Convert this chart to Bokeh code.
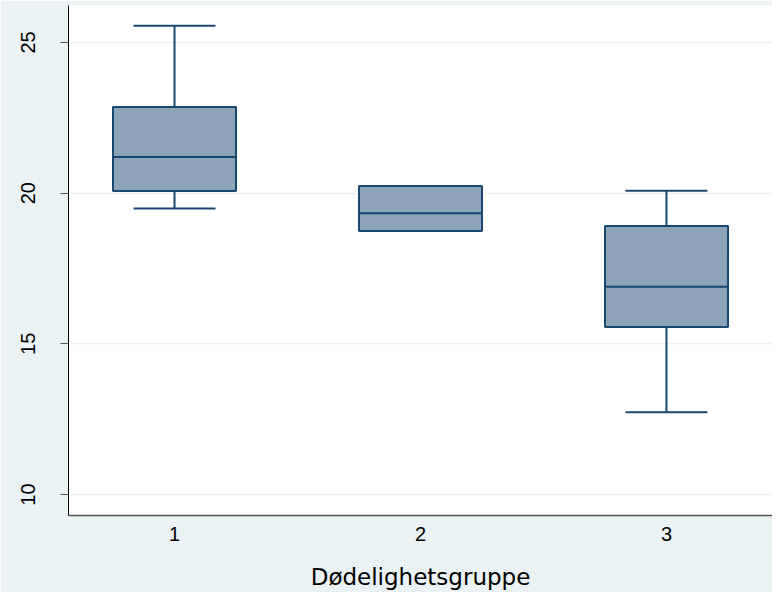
from bokeh.plotting import figure
from bokeh.models import Range1d, FixedTicker, ColumnDataSource
from bokeh.embed import file_html
from bokeh.resources import INLINE

# Data
groups = [1, 2, 3]
group_labels = ["1", "2", "3"]
q1 = [20.07, 18.74, 15.56]
median = [21.20, 19.33, 16.89]
q3 = [22.86, 20.24, 18.91]
lower = [19.49, 18.74, 12.73]
upper = [25.55, 20.24, 20.08]
y_ticks = [10, 15, 20, 25]

BG = "#EAF2F3"
LINE = "#1A476F"
FILL = "#8CA3B8"

box_w = 0.5
cap_w = 0.333

src = ColumnDataSource(dict(
    x=groups, q1=q1, med=median, q3=q3, lo=lower, hi=upper,
    xl=[g - box_w / 2 for g in groups], xr=[g + box_w / 2 for g in groups],
    cl=[g - cap_w / 2 for g in groups], cr=[g + cap_w / 2 for g in groups],
))

p = figure(width=772, height=592, output_backend="svg", toolbar_location=None,
           x_range=Range1d(0.569, 3.431), y_range=Range1d(9.305, 26.225))
p.background_fill_color = "white"
p.border_fill_color = BG
p.outline_line_color = None
p.min_border_left = 68
p.min_border_right = 0
p.min_border_top = 5
p.min_border_bottom = 76

# grid
p.xgrid.grid_line_color = None
p.ygrid.grid_line_color = BG
p.ygrid.grid_line_width = 1.5
p.ygrid.ticker = FixedTicker(ticks=y_ticks)

# y axis
p.yaxis.ticker = FixedTicker(ticks=y_ticks)
p.yaxis.major_label_orientation = "vertical"
p.yaxis.major_label_text_font = "Liberation Sans"
p.yaxis.major_label_text_font_size = "20px"
p.yaxis.major_label_text_color = "black"
p.yaxis.major_tick_out = 8
p.yaxis.major_tick_in = 0
p.yaxis.major_tick_line_color = "#555555"
p.yaxis.minor_tick_line_color = None
p.yaxis.axis_line_color = "black"
p.yaxis.major_label_standoff = 25

# x axis
p.xaxis.ticker = FixedTicker(ticks=groups)
p.xaxis.major_label_overrides = {g: l for g, l in zip(groups, group_labels)}
p.xaxis.major_label_text_font = "Liberation Sans"
p.xaxis.major_label_text_font_size = "20px"
p.xaxis.major_label_text_color = "black"
p.xaxis.major_tick_out = 0
p.xaxis.major_tick_in = 0
p.xaxis.minor_tick_line_color = None
p.xaxis.axis_line_color = "#555555"
p.xaxis.axis_line_width = 1.5
p.xaxis.major_label_standoff = 11
p.xaxis.axis_label = "Dødelighetsgruppe"
p.xaxis.axis_label_text_font = "DejaVu Sans"
p.xaxis.axis_label_text_font_style = "normal"
p.xaxis.axis_label_text_font_size = "23px"
p.xaxis.axis_label_text_color = "black"
p.xaxis.axis_label_standoff = 20

# whiskers
p.segment(x0="x", y0="q3", x1="x", y1="hi", source=src, line_color=LINE, line_width=2)
p.segment(x0="x", y0="lo", x1="x", y1="q1", source=src, line_color=LINE, line_width=2)
# caps
p.segment(x0="cl", y0="hi", x1="cr", y1="hi", source=src, line_color=LINE, line_width=2)
p.segment(x0="cl", y0="lo", x1="cr", y1="lo", source=src, line_color=LINE, line_width=2)
# boxes
p.vbar(x="x", width=box_w, bottom="q1", top="q3", source=src,
       fill_color=FILL, line_color=LINE, line_width=2)
# medians
p.segment(x0="xl", y0="med", x1="xr", y1="med", source=src, line_color=LINE, line_width=2)

open("out.html", "w").write(file_html(p, INLINE))
